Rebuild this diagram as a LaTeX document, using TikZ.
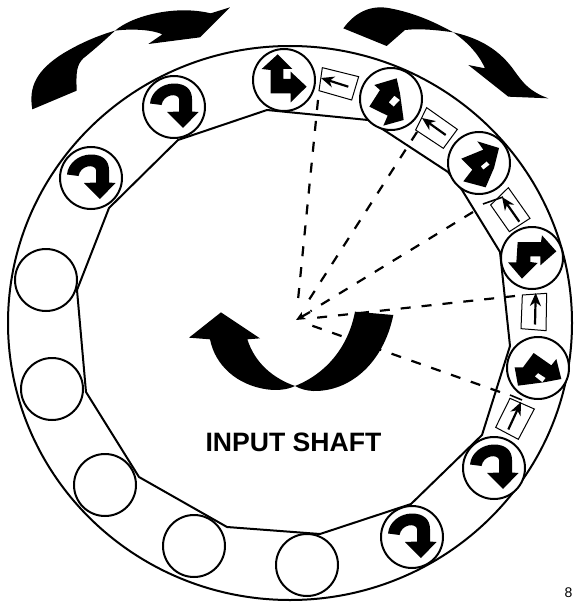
\documentclass[tikz,border=0pt]{standalone}
\usepackage{fontspec}
\setmainfont{Liberation Sans}
\usetikzlibrary{arrows.meta,calc}
\tikzset{
  wheel/.style={circle,draw=black,fill=white,line width=2pt,minimum size=62pt,inner sep=0pt},
  race/.style={draw=black,line width=2pt,line join=round},
  ray/.style={draw=black,line width=2.2pt,dash pattern=on 10pt off 11pt},
  tag/.style={draw=black,line width=1pt},
  tagarrow/.style={draw=black,line width=2.2pt,-{Stealth[length=13pt,width=11pt,inset=4pt]}},
  tick/.style={draw=black,line width=1.6pt}
}
\newcommand{\uturnat}[1]{%
  \fill[black,shift={(#1)}] (-24,-3.5) .. controls (-23,-15) and (-12,-23.5) .. (0,-23.5)
    .. controls (11,-23.5) and (18,-18) .. (18,-8) -- (18,4.5) -- (24.5,5) -- (9,21) -- (-7,5) -- (5,4.5)
    -- (5,-8) .. controls (5,-11) and (0,-12.5) .. (-3.5,-11.5) .. controls (-8,-10.5) and (-11.5,-7) .. (-12.5,-2) -- cycle;}
\begin{document}
\begin{tikzpicture}[x=1pt,y=-1pt]
\useasboundingbox (0,0) rectangle (573,602);
% outer ring
\draw[race] (290,323) ellipse [x radius=282,y radius=277];
% inner polygon
\draw[race] (109,208) -- (77,290) -- (86,392) -- (139,477) -- (227,527) -- (320,534) -- (411,504)
  -- (482,435) -- (510,346) -- (500,252) -- (462,190) -- (448,172) -- (387,132) -- (368,120)
  -- (267,110) -- (178,140) -- cycle;
% wheels
\node[wheel] (w1) at (284,80) {};
\node[wheel] (w2) at (391,99) {};
\node[wheel] (w3) at (479,163) {};
\node[wheel] (w4) at (532,258) {};
\node[wheel] (w5) at (538,368) {};
\node[wheel] (w6) at (494,468) {};
\node[wheel] (w7) at (412,537) {};
\node[wheel] (w8) at (307,565) {};
\node[wheel] (w9) at (194,546) {};
\node[wheel] (w10) at (105,485) {};
\node[wheel] (w11) at (52,389) {};
\node[wheel] (w12) at (46,280) {};
\node[wheel] (w13) at (91,178) {};
\node[wheel] (w14) at (174,107) {};
% u-turn symbols
\uturnat{91,178}
\uturnat{174,107}
\uturnat{494,468}
\uturnat{412,537}
% composite arrows
\begin{scope}[shift={(250,45)},scale=1/3]
\fill[black] (83,28) -- (127,72) -- (100,72) -- (100,102) -- (122,102) -- (122,80) -- (170,125) -- (122,172)
  -- (122,145) -- (62,145) -- (62,75) -- (35,72) -- cycle;
\end{scope}
\begin{scope}[shift={(356,65)},scale=1/3]
\fill[black,even odd rule] (55,60) -- (122,40) -- (132,85) -- (143,165) -- (82,182) -- (95,152) -- (40,125) -- (72,75) -- cycle
  (98,112) -- (115,92) -- (132,105) -- (113,125) -- cycle;
\end{scope}
\begin{scope}[shift={(444,128)},scale=1/3]
\fill[black,even odd rule] (100,40) -- (165,60) -- (150,120) -- (125,178) -- (58,160) -- (85,125) -- (52,92) -- (118,65) -- cycle
  (110,115) -- (128,100) -- (137,110) -- (118,125) -- cycle;
\end{scope}
\begin{scope}[shift={(497,223)},scale=1/3]
\fill[black] (135,37) -- (178,85) -- (130,127) -- (130,100) -- (100,100) -- (100,117) -- (122,120) -- (75,167)
  -- (33,118) -- (58,118) -- (62,57) -- (132,57) -- cycle;
\end{scope}
\begin{scope}[shift={(503,333)},scale=1/3]
\fill[black,even odd rule] (92,60) -- (145,97) -- (160,78) -- (175,138) -- (122,148) -- (45,158) -- (35,103) -- (60,103) -- cycle
  (95,130) -- (105,120) -- (128,135) -- (118,148) -- cycle;
\end{scope}
% tags
\begin{scope}[shift={(240,0)},scale=1/3]
\draw[tag] (247,203) -- (356,230) -- (335,300) -- (237,272) -- cycle;
\draw[tag] (560,323) -- (652,388) -- (610,445) -- (527,390) -- cycle;
\draw[tag] (805,563) -- (870,655) -- (808,695) -- (752,615) -- cycle;
\end{scope}
\draw[tagarrow] (348.3,86.7) -- (321,78);
\draw[tagarrow] (445.7,135) -- (422,118);
\draw[tagarrow] (519.3,221.7) -- (502,197);
\draw[tick] (483,204) -- (503,197);
\begin{scope}[shift={(440,220)},scale=1/3]
\draw[tag] (247,225) -- (320,220) -- (318,332) -- (243,326) -- cycle;
\draw[tag] (210,535) -- (283,567) -- (235,658) -- (167,622) -- cycle;
\end{scope}
\draw[tagarrow] (535,324.5) -- (535.7,293);
\draw[tagarrow] (508.3,429.5) -- (521,402);
\draw[tick] (510,395) -- (522,400);
% rays, laid out from their outer ends
\coordinate (hub) at (296,320);
\coordinate (e1) at (318,100);
\coordinate (e2) at (417,132);
\coordinate (e3) at (473,212);
\coordinate (e4) at (515,296);
\coordinate (e5) at (500,392);
\draw[ray] (e1) -- ($(hub)!15pt!(e1)$);
\draw[ray] (e2) -- ($(hub)!15pt!(e2)$);
\draw[ray] (e3) -- ($(hub)!17pt!(e3)$);
\draw[ray] (e4) -- ($(hub)!17pt!(e4)$);
\draw[ray] (e5) -- ($(hub)!17pt!(e5)$);
\coordinate (h1) at (310,312);
\draw[black,line width=2.2pt,-{Stealth[length=9pt,width=8pt,inset=2pt]}] (h1) -- (hub);
% input-shaft arrow
\begin{scope}[shift={(170,290)},scale=1/3]
\fill[black] (153,67) -- (270,145) -- (232,148) .. controls (255,220) and (310,265) .. (375,288)
 .. controls (470,250) and (535,170) .. (555,65) -- (670,75) .. controls (640,220) and (540,305) .. (430,303)
 .. controls (410,302) and (390,297) .. (375,288) .. controls (350,300) and (320,302) .. (290,298)
 .. controls (200,285) and (135,225) .. (120,148) -- (57,143) -- cycle;
\end{scope}
% rotation blobs
\begin{scope}[scale=1/3]
\fill[black] (97,328) .. controls (85,260) and (110,210) .. (190,160) .. controls (240,130) and (290,108) .. (345,92)
 .. controls (400,45) and (530,15) .. (632,40) -- (690,22) -- (600,112) -- (445,132) -- (487,103)
 .. controls (460,90) and (400,85) .. (345,92) .. controls (310,125) and (275,155) .. (250,175)
 .. controls (230,195) and (228,215) .. (230,272) -- cycle;
\end{scope}
\begin{scope}[shift={(240,0)},scale=1/3]
\fill[black] (310,85) .. controls (350,30) and (400,15) .. (450,25) .. controls (530,40) and (590,70) .. (640,97)
 .. controls (720,115) and (780,150) .. (825,215) .. controls (850,250) and (870,275) .. (925,295) -- (805,290)
 -- (685,195) -- (735,205) .. controls (715,160) and (680,125) .. (640,97) .. controls (590,90) and (540,85) .. (495,90)
 -- (440,138) -- cycle;
\end{scope}
% labels
\node[font=\fontsize{26.6}{27}\selectfont\bfseries,inner sep=0pt,anchor=center] (label) at (293.5,442.5) {INPUT SHAFT};
\node[font=\fontsize{14}{14}\selectfont,inner sep=0pt] (pageno) at (568.5,593) {8};
\end{tikzpicture}
\end{document}
